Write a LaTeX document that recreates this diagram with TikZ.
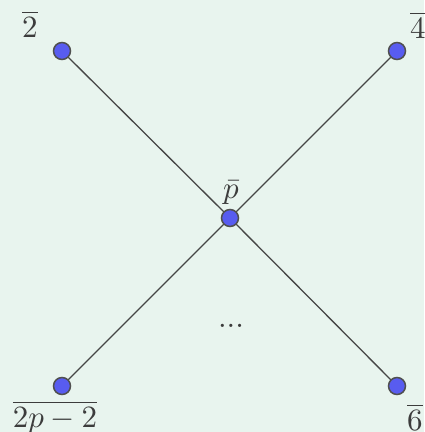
\documentclass[tikz,border=0pt]{standalone}
\usepackage{graphicx}
\definecolor{bgc}{RGB}{232,244,238}
\definecolor{vfill}{RGB}{88,92,240}
\definecolor{vedge}{RGB}{80,80,80}
\definecolor{edgec}{RGB}{70,70,70}
\definecolor{txtc}{RGB}{60,60,60}
\newcommand{\biglab}[1]{\scalebox{3.1}{#1}}
\begin{document}
\begin{tikzpicture}[x=1pt,y=-1pt,
  vert/.style={circle,fill=vfill,draw=vedge,line width=1.5pt,minimum size=17pt,inner sep=0pt},
  edge/.style={draw=edgec,line width=1.3pt},
  lab/.style={text=txtc,inner sep=0pt}]
\fill[bgc] (0,0) rectangle (424,432);
\useasboundingbox (0,0) rectangle (424,432);
\coordinate (pa) at (62,51);
\coordinate (pb) at (397,51);
\coordinate (pc) at (230,218);
\coordinate (pd) at (62,386);
\coordinate (pe) at (397,386);
\draw[edge] (pa) -- (pc); \draw[edge] (pc) -- (pe);
\draw[edge] (pb) -- (pc); \draw[edge] (pc) -- (pd);
\node[vert] (a) at (pa) {};
\node[vert] (b) at (pb) {};
\node[vert] (c) at (pc) {};
\node[vert] (d) at (pd) {};
\node[vert] (e) at (pe) {};
\node[lab,anchor=base] (la) at (30,37) {\biglab{$\overline{2}$}};
\node[lab,anchor=base west] (lb) at (410,38) {\biglab{$\overline{4}$}};
\node[lab,anchor=base] (lc) at (231,198) {\biglab{$\bar{p}$}};
\node[lab,anchor=base] (ldots) at (231,327) {\biglab{...}};
\node[lab,anchor=base] (ld) at (55,427) {\biglab{$\overline{2p-2}$}};
\node[lab,anchor=base west] (le) at (407,430) {\biglab{$\overline{6}$}};
\end{tikzpicture}
\end{document}
